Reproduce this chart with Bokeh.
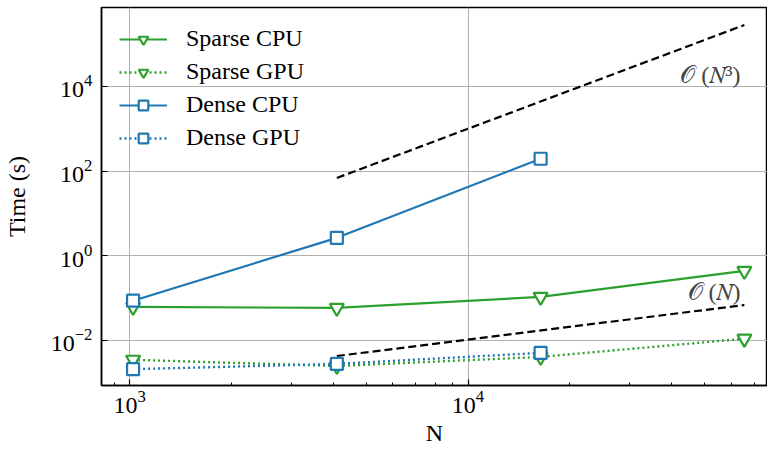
from bokeh.plotting import figure
from bokeh.models import Range1d, FixedTicker, Legend, LegendItem, Label
from bokeh.embed import file_html
from bokeh.resources import INLINE

# data
N = [1024, 4096, 16384, 65536]
sparse_cpu = [0.062, 0.059, 0.107, 0.44]
sparse_gpu = [0.0035, 0.0025, 0.0041, 0.011]
dense_N = [1024, 4096, 16384]
dense_cpu = [0.087, 2.66, 196]
dense_gpu = [0.0021, 0.0028, 0.0051]
ref_N = [4096, 65536]
ref_n3 = [69, 282624]
ref_n1 = [0.0043, 0.069]

GREEN = "#2ca02c"
BLUE = "#1f77b4"
FONT = "Liberation Serif"
FS = "24px"

p = figure(width=767, height=449, x_axis_type="log", y_axis_type="log",
           x_range=Range1d(826, 76700), y_range=Range1d(0.000865, 733000),
           output_backend="svg", toolbar_location=None,
           min_border_left=100, min_border_right=0, min_border_top=7, min_border_bottom=64)
p.outline_line_color = "black"
p.outline_line_width = 1.5
p.background_fill_color = "white"
p.border_fill_color = "white"

for ax in (p.xaxis[0], p.yaxis[0]):
    ax.major_tick_in = 6
    ax.major_tick_out = 0
    ax.minor_tick_in = 3
    ax.minor_tick_out = 0
    ax.axis_line_width = 1.5
    ax.major_tick_line_width = 1.2
    ax.major_label_text_font = FONT
    ax.major_label_text_font_size = FS
    ax.major_label_text_color = "black"
    ax.axis_label_text_font = FONT
    ax.axis_label_text_font_size = FS
    ax.axis_label_text_font_style = "normal"
    ax.axis_label_text_color = "black"

p.xaxis.ticker = FixedTicker(ticks=[1e3, 1e4],
                             minor_ticks=[900, 2000, 3000, 4000, 5000, 6000, 7000, 8000, 9000,
                                          20000, 30000, 40000, 50000, 60000, 70000])
p.yaxis.ticker = FixedTicker(ticks=[1e-2, 1, 1e2, 1e4], minor_ticks=[])
p.xaxis.axis_label = "N"
p.yaxis.axis_label = "Time (s)"
p.xaxis.major_label_standoff = 5
p.yaxis.major_label_standoff = 9
p.xaxis.axis_label_standoff = 4
p.yaxis.axis_label_standoff = 18

p.grid.grid_line_color = "#b0b0b0"
p.grid.grid_line_width = 1

# reference lines
p.line(ref_N, ref_n3, line_color="black", line_width=2.2, line_dash="8 4")
p.line(ref_N, ref_n1, line_color="black", line_width=2.2, line_dash="8 4")

sc_l = p.line(N, sparse_cpu, line_color=GREEN, line_width=2.2)
sc_m = p.scatter(N, sparse_cpu, marker="inverted_triangle", size=14, line_color=GREEN,
                 fill_color="white", line_width=2.2)
sg_l = p.line(N, sparse_gpu, line_color=GREEN, line_width=2.4, line_dash="2 3")
sg_m = p.scatter(N, sparse_gpu, marker="inverted_triangle", size=14, line_color=GREEN,
                 fill_color="white", line_width=2.2)
dc_l = p.line(dense_N, dense_cpu, line_color=BLUE, line_width=2.2)
dc_m = p.scatter(dense_N, dense_cpu, marker="square", size=12, line_color=BLUE,
                 fill_color="white", line_width=2.2)
dg_l = p.line(dense_N, dense_gpu, line_color=BLUE, line_width=2.4, line_dash="2 3")
dg_m = p.scatter(dense_N, dense_gpu, marker="square", size=12, line_color=BLUE,
                 fill_color="white", line_width=2.2)

legend = Legend(items=[
    LegendItem(label="Sparse CPU", renderers=[sc_l, sc_m]),
    LegendItem(label="Sparse GPU", renderers=[sg_l, sg_m]),
    LegendItem(label="Dense CPU", renderers=[dc_l, dc_m]),
    LegendItem(label="Dense GPU", renderers=[dg_l, dg_m]),
], location="top_left")
legend.background_fill_alpha = 0
legend.border_line_color = None
legend.label_text_font = FONT
legend.label_text_font_size = FS
legend.label_text_color = "black"
legend.label_height = 24
legend.glyph_width = 48
legend.glyph_height = 24
legend.spacing = 6
legend.label_standoff = 19
legend.margin = 18
legend.padding = 4
p.add_layout(legend)

p.add_layout(Label(x=64700, y=18200, text="𝒪 (𝑁³)", text_font=FONT, text_font_size=FS,
                   text_baseline="middle", text_align="right"))
p.add_layout(Label(x=64700, y=0.14, text="𝒪 (𝑁)", text_font=FONT, text_font_size=FS,
                   text_baseline="middle", text_align="right"))

open("out.html", "w").write(file_html(p, INLINE))
